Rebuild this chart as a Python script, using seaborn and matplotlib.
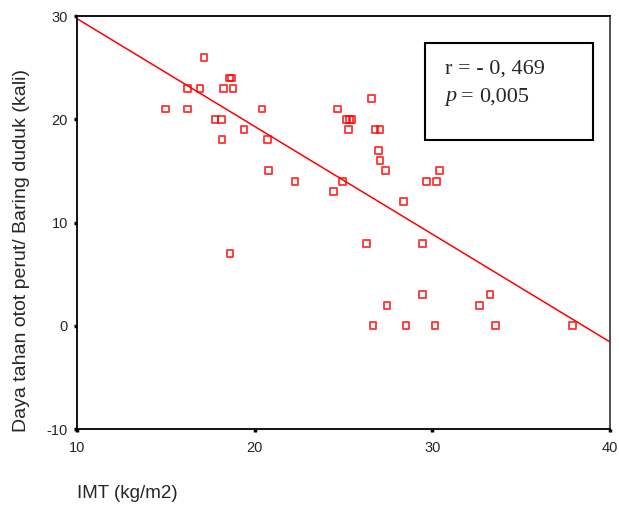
import matplotlib
matplotlib.use("Agg")
import matplotlib.pyplot as plt
import seaborn as sns
import numpy as np
import pandas as pd
from matplotlib.patches import Rectangle

imt = [17.15, 18.6, 18.7, 16.23, 16.92, 18.23, 18.78, 14.97, 16.23, 20.41,
       17.77, 18.14, 19.40, 18.16, 20.71, 20.79, 18.61, 22.27, 24.43, 24.65,
       25.18, 25.33, 25.48, 25.27, 26.59, 26.77, 27.05, 26.98, 27.05, 27.37,
       30.39, 24.95, 29.68, 30.22, 28.37, 26.28, 29.46, 29.46, 33.25, 27.45,
       32.64, 26.66, 28.52, 30.15, 33.54, 37.90]
daya = [26, 24, 24, 23, 23, 23, 23, 21, 21, 21,
        20, 20, 19, 18, 18, 15, 7, 14, 13, 21,
        20, 20, 20, 19, 22, 19, 19, 17, 16, 15,
        15, 14, 14, 14, 12, 8, 8, 3, 3, 2,
        2, 0, 0, 0, 0, 0]

xticks = [10, 20, 30, 40]
yticks = [-10, 0, 10, 20, 30]
xlabel = "IMT (kg/m2)"
ylabel = "Daya tahan otot perut/ Baring duduk (kali)"
stat_r = "r = - 0, 469"
stat_p = "0,005"

df = pd.DataFrame({"IMT": imt, "Daya": daya})

sns.set_style("white")
plt.rcParams['font.family'] = ['Liberation Sans', 'DejaVu Sans']

fig = plt.figure(figsize=(6.19, 5.08), dpi=100)
W, H = 619, 508
ax = fig.add_axes([77 / W, 1 - 429 / H, (610 - 77) / W, (429 - 16) / H])
ax.set_xlim(10, 40)
ax.set_ylim(-10, 30)

sns.regplot(data=df, x="IMT", y="Daya", ax=ax, ci=None, truncate=False,
            marker="s",
            scatter_kws=dict(s=24, facecolors="none", edgecolors="red", linewidths=1.3),
            line_kws=dict(color="red", linewidth=1.1))

ax.set_xlim(10, 40)
ax.set_ylim(-10, 30)
ax.set_xticks(xticks)
ax.set_yticks(yticks)
ax.set_xticklabels([str(t) for t in xticks])
ax.set_yticklabels([str(t) for t in yticks])
ax.set_xlabel("")
ax.set_ylabel("")
for s in ax.spines.values():
    s.set_visible(True)
    s.set_color("black")
    s.set_linewidth(1.3)
ax.spines["right"].set_color("#444444")
ax.tick_params(axis="both", direction="out", length=2.5, width=2.5, color="black",
               labelsize=10.5, bottom=True, left=True, top=False, right=False)
ax.tick_params(axis="x", pad=6)
ax.tick_params(axis="y", pad=4)

fig.text(21.5 / W, 1 - 250 / H, ylabel, rotation=90, fontsize=14,
         ha="center", va="center")
fig.text(77 / W, 1 - 493 / H, xlabel, fontsize=13.5, ha="left", va="center")

rect = Rectangle((425 / W, 1 - 140 / H), (593 - 425) / W, (140 - 43) / H,
                 transform=fig.transFigure, fill=False, edgecolor="black",
                 linewidth=1.5, zorder=5)
fig.patches.append(rect)
fig.text(445 / W, 1 - 69 / H, stat_r, fontsize=16, family="Liberation Serif",
         ha="left", va="center")
fig.text(445 / W, 1 - 97 / H, "p", fontsize=16, family="Liberation Serif",
         style="italic", ha="left", va="center")
fig.text(461 / W, 1 - 97 / H, "=", fontsize=16, family="Liberation Serif",
         ha="left", va="center")
fig.text(479 / W, 1 - 97 / H, stat_p, fontsize=16, family="Liberation Serif",
         ha="left", va="center")

fig.savefig("out.png", dpi=100)
